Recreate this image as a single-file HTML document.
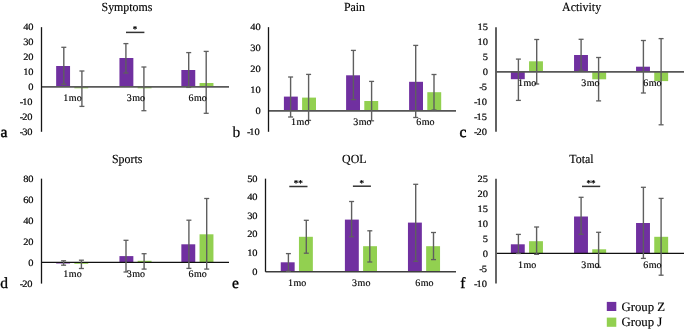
<!DOCTYPE html>
<html><head><meta charset="utf-8"><title>Chart</title>
<style>
html,body{margin:0;padding:0;background:#fff;width:685px;height:330px;overflow:hidden}
svg{display:block;will-change:transform}
text{font-family:"Liberation Serif",serif;fill:#000;text-rendering:geometricPrecision}
</style></head>
<body>
<svg width="685" height="330" viewBox="0 0 685 330">

<text transform="translate(33.60,30.05) scale(1.08,1)" font-size="9.7" text-anchor="end" stroke="#000" stroke-width="0.2">40</text>
<text transform="translate(33.60,45.00) scale(1.08,1)" font-size="9.7" text-anchor="end" stroke="#000" stroke-width="0.2">30</text>
<text transform="translate(33.60,59.95) scale(1.08,1)" font-size="9.7" text-anchor="end" stroke="#000" stroke-width="0.2">20</text>
<text transform="translate(33.60,74.90) scale(1.08,1)" font-size="9.7" text-anchor="end" stroke="#000" stroke-width="0.2">10</text>
<text transform="translate(33.60,89.85) scale(1.08,1)" font-size="9.7" text-anchor="end" stroke="#000" stroke-width="0.2">0</text>
<text transform="translate(32.60,104.80) scale(1.08,1)" font-size="9.7" text-anchor="end" stroke="#000" stroke-width="0.2">-<tspan dx="-1.0">10</tspan></text>
<text transform="translate(32.60,119.75) scale(1.08,1)" font-size="9.7" text-anchor="end" stroke="#000" stroke-width="0.2">-<tspan dx="-1.0">20</tspan></text>
<text transform="translate(32.60,134.70) scale(1.08,1)" font-size="9.7" text-anchor="end" stroke="#000" stroke-width="0.2">-<tspan dx="-1.0">30</tspan></text>
<rect x="56.15" y="66.00" width="13.90" height="20.90" fill="#7030A0"/>
<rect x="74.35" y="86.90" width="13.90" height="1.40" fill="#92D050"/>
<rect x="119.45" y="58.00" width="13.90" height="28.90" fill="#7030A0"/>
<rect x="137.65" y="86.90" width="13.90" height="1.40" fill="#92D050"/>
<rect x="181.35" y="70.00" width="13.90" height="16.90" fill="#7030A0"/>
<rect x="199.55" y="83.00" width="13.90" height="3.90" fill="#92D050"/>
<line x1="41.50" y1="86.90" x2="229.00" y2="86.90" stroke="#5a5a5a" stroke-width="1.6"/>
<line x1="41.50" y1="27.15" x2="41.50" y2="131.80" stroke="#151515" stroke-width="1.3"/>
<line x1="63.80" y1="47.30" x2="63.80" y2="84.20" stroke="#5f5f5f" stroke-width="1.4"/>
<line x1="61.30" y1="47.30" x2="66.30" y2="47.30" stroke="#5f5f5f" stroke-width="1.3"/>
<line x1="61.30" y1="84.20" x2="66.30" y2="84.20" stroke="#5f5f5f" stroke-width="1.3"/>
<line x1="81.90" y1="71.00" x2="81.90" y2="106.40" stroke="#5f5f5f" stroke-width="1.4"/>
<line x1="79.40" y1="71.00" x2="84.40" y2="71.00" stroke="#5f5f5f" stroke-width="1.3"/>
<line x1="79.40" y1="106.40" x2="84.40" y2="106.40" stroke="#5f5f5f" stroke-width="1.3"/>
<text x="72.50" y="100.90" font-size="10" text-anchor="middle" stroke="#000" stroke-width="0.15">1<tspan dx="0.5">mo</tspan></text>
<line x1="125.90" y1="43.60" x2="125.90" y2="73.00" stroke="#5f5f5f" stroke-width="1.4"/>
<line x1="123.40" y1="43.60" x2="128.40" y2="43.60" stroke="#5f5f5f" stroke-width="1.3"/>
<line x1="123.40" y1="73.00" x2="128.40" y2="73.00" stroke="#5f5f5f" stroke-width="1.3"/>
<line x1="143.90" y1="67.00" x2="143.90" y2="110.70" stroke="#5f5f5f" stroke-width="1.4"/>
<line x1="141.40" y1="67.00" x2="146.40" y2="67.00" stroke="#5f5f5f" stroke-width="1.3"/>
<line x1="141.40" y1="110.70" x2="146.40" y2="110.70" stroke="#5f5f5f" stroke-width="1.3"/>
<text x="135.80" y="100.90" font-size="10" text-anchor="middle" stroke="#000" stroke-width="0.15">3<tspan dx="0.5">mo</tspan></text>
<line x1="188.70" y1="52.60" x2="188.70" y2="87.40" stroke="#5f5f5f" stroke-width="1.4"/>
<line x1="186.20" y1="52.60" x2="191.20" y2="52.60" stroke="#5f5f5f" stroke-width="1.3"/>
<line x1="186.20" y1="87.40" x2="191.20" y2="87.40" stroke="#5f5f5f" stroke-width="1.3"/>
<line x1="206.20" y1="51.40" x2="206.20" y2="113.30" stroke="#5f5f5f" stroke-width="1.4"/>
<line x1="203.70" y1="51.40" x2="208.70" y2="51.40" stroke="#5f5f5f" stroke-width="1.3"/>
<line x1="203.70" y1="113.30" x2="208.70" y2="113.30" stroke="#5f5f5f" stroke-width="1.3"/>
<text x="197.70" y="100.90" font-size="10" text-anchor="middle" stroke="#000" stroke-width="0.15">6<tspan dx="0.5">mo</tspan></text>
<text transform="translate(127.00,10.90) scale(0.96,1)" font-size="12.4" text-anchor="middle" stroke="#000" stroke-width="0.15">Symptoms</text>
<text x="0.50" y="136.80" font-size="15.5" text-anchor="start" stroke="#000" stroke-width="0.45">a</text>
<line x1="126.00" y1="32.40" x2="144.40" y2="32.40" stroke="#333" stroke-width="1.5"/>
<text x="135.00" y="31.80" font-size="9" text-anchor="middle" stroke="#000" stroke-width="0.3">*</text>
<text transform="translate(260.80,30.05) scale(1.08,1)" font-size="9.7" text-anchor="end" stroke="#000" stroke-width="0.2">40</text>
<text transform="translate(260.80,50.98) scale(1.08,1)" font-size="9.7" text-anchor="end" stroke="#000" stroke-width="0.2">30</text>
<text transform="translate(260.80,71.91) scale(1.08,1)" font-size="9.7" text-anchor="end" stroke="#000" stroke-width="0.2">20</text>
<text transform="translate(260.80,92.84) scale(1.08,1)" font-size="9.7" text-anchor="end" stroke="#000" stroke-width="0.2">10</text>
<text transform="translate(260.80,113.77) scale(1.08,1)" font-size="9.7" text-anchor="end" stroke="#000" stroke-width="0.2">0</text>
<text transform="translate(259.80,134.70) scale(1.08,1)" font-size="9.7" text-anchor="end" stroke="#000" stroke-width="0.2">-<tspan dx="-1.0">10</tspan></text>
<rect x="283.90" y="96.60" width="13.90" height="14.20" fill="#7030A0"/>
<rect x="302.10" y="97.60" width="13.90" height="13.20" fill="#92D050"/>
<rect x="346.10" y="75.30" width="13.90" height="35.50" fill="#7030A0"/>
<rect x="364.30" y="101.00" width="13.90" height="9.80" fill="#92D050"/>
<rect x="409.10" y="81.80" width="13.90" height="29.00" fill="#7030A0"/>
<rect x="427.30" y="92.20" width="13.90" height="18.60" fill="#92D050"/>
<line x1="268.50" y1="110.80" x2="456.00" y2="110.80" stroke="#555" stroke-width="1.7"/>
<line x1="268.50" y1="27.15" x2="268.50" y2="131.80" stroke="#151515" stroke-width="1.3"/>
<line x1="290.60" y1="77.00" x2="290.60" y2="117.00" stroke="#5f5f5f" stroke-width="1.4"/>
<line x1="288.10" y1="77.00" x2="293.10" y2="77.00" stroke="#5f5f5f" stroke-width="1.3"/>
<line x1="288.10" y1="117.00" x2="293.10" y2="117.00" stroke="#5f5f5f" stroke-width="1.3"/>
<line x1="308.60" y1="74.40" x2="308.60" y2="120.40" stroke="#5f5f5f" stroke-width="1.4"/>
<line x1="306.10" y1="74.40" x2="311.10" y2="74.40" stroke="#5f5f5f" stroke-width="1.3"/>
<line x1="306.10" y1="120.40" x2="311.10" y2="120.40" stroke="#5f5f5f" stroke-width="1.3"/>
<text x="300.25" y="125.10" font-size="10" text-anchor="middle" stroke="#000" stroke-width="0.15">1<tspan dx="0.5">mo</tspan></text>
<line x1="353.40" y1="50.40" x2="353.40" y2="99.60" stroke="#5f5f5f" stroke-width="1.4"/>
<line x1="350.90" y1="50.40" x2="355.90" y2="50.40" stroke="#5f5f5f" stroke-width="1.3"/>
<line x1="350.90" y1="99.60" x2="355.90" y2="99.60" stroke="#5f5f5f" stroke-width="1.3"/>
<line x1="371.60" y1="81.40" x2="371.60" y2="120.80" stroke="#5f5f5f" stroke-width="1.4"/>
<line x1="369.10" y1="81.40" x2="374.10" y2="81.40" stroke="#5f5f5f" stroke-width="1.3"/>
<line x1="369.10" y1="120.80" x2="374.10" y2="120.80" stroke="#5f5f5f" stroke-width="1.3"/>
<text x="362.45" y="125.10" font-size="10" text-anchor="middle" stroke="#000" stroke-width="0.15">3<tspan dx="0.5">mo</tspan></text>
<line x1="415.70" y1="45.40" x2="415.70" y2="117.50" stroke="#5f5f5f" stroke-width="1.4"/>
<line x1="413.20" y1="45.40" x2="418.20" y2="45.40" stroke="#5f5f5f" stroke-width="1.3"/>
<line x1="413.20" y1="117.50" x2="418.20" y2="117.50" stroke="#5f5f5f" stroke-width="1.3"/>
<line x1="434.00" y1="74.50" x2="434.00" y2="110.00" stroke="#5f5f5f" stroke-width="1.4"/>
<line x1="431.50" y1="74.50" x2="436.50" y2="74.50" stroke="#5f5f5f" stroke-width="1.3"/>
<line x1="431.50" y1="110.00" x2="436.50" y2="110.00" stroke="#5f5f5f" stroke-width="1.3"/>
<text x="425.45" y="125.10" font-size="10" text-anchor="middle" stroke="#000" stroke-width="0.15">6<tspan dx="0.5">mo</tspan></text>
<text transform="translate(354.50,10.90) scale(0.96,1)" font-size="12.4" text-anchor="middle" stroke="#000" stroke-width="0.15">Pain</text>
<text x="232.50" y="136.80" font-size="15.5" text-anchor="start" stroke="#000" stroke-width="0.15">b</text>
<text transform="translate(488.00,30.05) scale(1.08,1)" font-size="9.7" text-anchor="end" stroke="#000" stroke-width="0.2">15</text>
<text transform="translate(488.00,45.00) scale(1.08,1)" font-size="9.7" text-anchor="end" stroke="#000" stroke-width="0.2">10</text>
<text transform="translate(488.00,59.95) scale(1.08,1)" font-size="9.7" text-anchor="end" stroke="#000" stroke-width="0.2">5</text>
<text transform="translate(488.00,74.90) scale(1.08,1)" font-size="9.7" text-anchor="end" stroke="#000" stroke-width="0.2">0</text>
<text transform="translate(487.00,89.85) scale(1.08,1)" font-size="9.7" text-anchor="end" stroke="#000" stroke-width="0.2">-<tspan dx="-1.0">5</tspan></text>
<text transform="translate(487.00,104.80) scale(1.08,1)" font-size="9.7" text-anchor="end" stroke="#000" stroke-width="0.2">-<tspan dx="-1.0">10</tspan></text>
<text transform="translate(487.00,119.75) scale(1.08,1)" font-size="9.7" text-anchor="end" stroke="#000" stroke-width="0.2">-<tspan dx="-1.0">15</tspan></text>
<text transform="translate(487.00,134.70) scale(1.08,1)" font-size="9.7" text-anchor="end" stroke="#000" stroke-width="0.2">-<tspan dx="-1.0">20</tspan></text>
<rect x="510.85" y="71.85" width="13.90" height="7.35" fill="#7030A0"/>
<rect x="529.05" y="61.30" width="13.90" height="10.55" fill="#92D050"/>
<rect x="574.05" y="55.00" width="13.90" height="16.85" fill="#7030A0"/>
<rect x="592.25" y="71.85" width="13.90" height="7.45" fill="#92D050"/>
<rect x="636.05" y="66.70" width="13.90" height="5.15" fill="#7030A0"/>
<rect x="654.25" y="71.85" width="13.90" height="9.25" fill="#92D050"/>
<line x1="496.00" y1="71.85" x2="684.00" y2="71.85" stroke="#575757" stroke-width="1.85"/>
<line x1="496.00" y1="27.15" x2="496.00" y2="131.80" stroke="#5a5a5a" stroke-width="1.9"/>
<line x1="518.40" y1="59.10" x2="518.40" y2="100.40" stroke="#5f5f5f" stroke-width="1.4"/>
<line x1="515.90" y1="59.10" x2="520.90" y2="59.10" stroke="#5f5f5f" stroke-width="1.3"/>
<line x1="515.90" y1="100.40" x2="520.90" y2="100.40" stroke="#5f5f5f" stroke-width="1.3"/>
<line x1="536.70" y1="39.50" x2="536.70" y2="84.00" stroke="#5f5f5f" stroke-width="1.4"/>
<line x1="534.20" y1="39.50" x2="539.20" y2="39.50" stroke="#5f5f5f" stroke-width="1.3"/>
<line x1="534.20" y1="84.00" x2="539.20" y2="84.00" stroke="#5f5f5f" stroke-width="1.3"/>
<text x="527.20" y="85.80" font-size="10" text-anchor="middle" stroke="#000" stroke-width="0.15">1<tspan dx="0.5">mo</tspan></text>
<line x1="581.10" y1="39.30" x2="581.10" y2="70.20" stroke="#5f5f5f" stroke-width="1.4"/>
<line x1="578.60" y1="39.30" x2="583.60" y2="39.30" stroke="#5f5f5f" stroke-width="1.3"/>
<line x1="578.60" y1="70.20" x2="583.60" y2="70.20" stroke="#5f5f5f" stroke-width="1.3"/>
<line x1="598.60" y1="57.50" x2="598.60" y2="100.90" stroke="#5f5f5f" stroke-width="1.4"/>
<line x1="596.10" y1="57.50" x2="601.10" y2="57.50" stroke="#5f5f5f" stroke-width="1.3"/>
<line x1="596.10" y1="100.90" x2="601.10" y2="100.90" stroke="#5f5f5f" stroke-width="1.3"/>
<text x="590.40" y="85.80" font-size="10" text-anchor="middle" stroke="#000" stroke-width="0.15">3<tspan dx="0.5">mo</tspan></text>
<line x1="643.40" y1="40.50" x2="643.40" y2="93.00" stroke="#5f5f5f" stroke-width="1.4"/>
<line x1="640.90" y1="40.50" x2="645.90" y2="40.50" stroke="#5f5f5f" stroke-width="1.3"/>
<line x1="640.90" y1="93.00" x2="645.90" y2="93.00" stroke="#5f5f5f" stroke-width="1.3"/>
<line x1="661.10" y1="38.60" x2="661.10" y2="124.80" stroke="#5f5f5f" stroke-width="1.4"/>
<line x1="658.60" y1="38.60" x2="663.60" y2="38.60" stroke="#5f5f5f" stroke-width="1.3"/>
<line x1="658.60" y1="124.80" x2="663.60" y2="124.80" stroke="#5f5f5f" stroke-width="1.3"/>
<text x="652.40" y="85.80" font-size="10" text-anchor="middle" stroke="#000" stroke-width="0.15">6<tspan dx="0.5">mo</tspan></text>
<text transform="translate(581.60,10.90) scale(0.96,1)" font-size="12.4" text-anchor="middle" stroke="#000" stroke-width="0.15">Activity</text>
<text x="459.50" y="136.80" font-size="15.5" text-anchor="start" stroke="#000" stroke-width="0.5">c</text>
<text transform="translate(33.60,181.55) scale(1.08,1)" font-size="9.7" text-anchor="end" stroke="#000" stroke-width="0.2">80</text>
<text transform="translate(33.60,202.54) scale(1.08,1)" font-size="9.7" text-anchor="end" stroke="#000" stroke-width="0.2">60</text>
<text transform="translate(33.60,223.53) scale(1.08,1)" font-size="9.7" text-anchor="end" stroke="#000" stroke-width="0.2">40</text>
<text transform="translate(33.60,244.52) scale(1.08,1)" font-size="9.7" text-anchor="end" stroke="#000" stroke-width="0.2">20</text>
<text transform="translate(33.60,265.51) scale(1.08,1)" font-size="9.7" text-anchor="end" stroke="#000" stroke-width="0.2">0</text>
<text transform="translate(32.60,286.50) scale(1.08,1)" font-size="9.7" text-anchor="end" stroke="#000" stroke-width="0.2">-<tspan dx="-1.0">20</tspan></text>
<rect x="56.15" y="262.40" width="13.90" height="1.10" fill="#7030A0"/>
<rect x="74.35" y="262.40" width="13.90" height="1.40" fill="#92D050"/>
<rect x="119.45" y="256.10" width="13.90" height="6.30" fill="#7030A0"/>
<rect x="137.65" y="260.80" width="13.90" height="1.60" fill="#92D050"/>
<rect x="181.35" y="244.30" width="13.90" height="18.10" fill="#7030A0"/>
<rect x="199.55" y="234.30" width="13.90" height="28.10" fill="#92D050"/>
<line x1="41.50" y1="262.40" x2="229.00" y2="262.40" stroke="#111" stroke-width="1.25"/>
<line x1="41.50" y1="178.65" x2="41.50" y2="283.60" stroke="#151515" stroke-width="1.3"/>
<line x1="63.60" y1="260.80" x2="63.60" y2="265.20" stroke="#5f5f5f" stroke-width="1.4"/>
<line x1="61.10" y1="260.80" x2="66.10" y2="260.80" stroke="#5f5f5f" stroke-width="1.3"/>
<line x1="61.10" y1="265.20" x2="66.10" y2="265.20" stroke="#5f5f5f" stroke-width="1.3"/>
<line x1="81.40" y1="260.20" x2="81.40" y2="268.50" stroke="#5f5f5f" stroke-width="1.4"/>
<line x1="78.90" y1="260.20" x2="83.90" y2="260.20" stroke="#5f5f5f" stroke-width="1.3"/>
<line x1="78.90" y1="268.50" x2="83.90" y2="268.50" stroke="#5f5f5f" stroke-width="1.3"/>
<text x="72.50" y="276.80" font-size="10" text-anchor="middle" stroke="#000" stroke-width="0.15">1<tspan dx="0.5">mo</tspan></text>
<line x1="126.00" y1="240.30" x2="126.00" y2="272.00" stroke="#5f5f5f" stroke-width="1.4"/>
<line x1="123.50" y1="240.30" x2="128.50" y2="240.30" stroke="#5f5f5f" stroke-width="1.3"/>
<line x1="123.50" y1="272.00" x2="128.50" y2="272.00" stroke="#5f5f5f" stroke-width="1.3"/>
<line x1="144.10" y1="253.70" x2="144.10" y2="269.10" stroke="#5f5f5f" stroke-width="1.4"/>
<line x1="141.60" y1="253.70" x2="146.60" y2="253.70" stroke="#5f5f5f" stroke-width="1.3"/>
<line x1="141.60" y1="269.10" x2="146.60" y2="269.10" stroke="#5f5f5f" stroke-width="1.3"/>
<text x="135.80" y="276.80" font-size="10" text-anchor="middle" stroke="#000" stroke-width="0.15">3<tspan dx="0.5">mo</tspan></text>
<line x1="188.90" y1="220.20" x2="188.90" y2="268.40" stroke="#5f5f5f" stroke-width="1.4"/>
<line x1="186.40" y1="220.20" x2="191.40" y2="220.20" stroke="#5f5f5f" stroke-width="1.3"/>
<line x1="186.40" y1="268.40" x2="191.40" y2="268.40" stroke="#5f5f5f" stroke-width="1.3"/>
<line x1="206.70" y1="198.50" x2="206.70" y2="269.10" stroke="#5f5f5f" stroke-width="1.4"/>
<line x1="204.20" y1="198.50" x2="209.20" y2="198.50" stroke="#5f5f5f" stroke-width="1.3"/>
<line x1="204.20" y1="269.10" x2="209.20" y2="269.10" stroke="#5f5f5f" stroke-width="1.3"/>
<text x="197.70" y="276.80" font-size="10" text-anchor="middle" stroke="#000" stroke-width="0.15">6<tspan dx="0.5">mo</tspan></text>
<text transform="translate(127.20,163.00) scale(0.96,1)" font-size="12.4" text-anchor="middle" stroke="#000" stroke-width="0.15">Sports</text>
<text x="0.20" y="288.10" font-size="15.5" text-anchor="start" stroke="#000" stroke-width="0.3">d</text>
<text transform="translate(257.60,181.55) scale(1.08,1)" font-size="9.7" text-anchor="end" stroke="#000" stroke-width="0.2">50</text>
<text transform="translate(257.60,200.18) scale(1.08,1)" font-size="9.7" text-anchor="end" stroke="#000" stroke-width="0.2">40</text>
<text transform="translate(257.60,218.81) scale(1.08,1)" font-size="9.7" text-anchor="end" stroke="#000" stroke-width="0.2">30</text>
<text transform="translate(257.60,237.44) scale(1.08,1)" font-size="9.7" text-anchor="end" stroke="#000" stroke-width="0.2">20</text>
<text transform="translate(257.60,256.07) scale(1.08,1)" font-size="9.7" text-anchor="end" stroke="#000" stroke-width="0.2">10</text>
<text transform="translate(257.60,274.70) scale(1.08,1)" font-size="9.7" text-anchor="end" stroke="#000" stroke-width="0.2">0</text>
<rect x="280.75" y="262.30" width="13.90" height="9.50" fill="#7030A0"/>
<rect x="298.95" y="236.80" width="13.90" height="35.00" fill="#92D050"/>
<rect x="344.90" y="219.60" width="13.90" height="52.20" fill="#7030A0"/>
<rect x="363.10" y="246.20" width="13.90" height="25.60" fill="#92D050"/>
<rect x="407.95" y="222.60" width="13.90" height="49.20" fill="#7030A0"/>
<rect x="426.15" y="246.20" width="13.90" height="25.60" fill="#92D050"/>
<line x1="265.50" y1="271.80" x2="456.00" y2="271.80" stroke="#3e3e3e" stroke-width="1.6"/>
<line x1="265.50" y1="178.65" x2="265.50" y2="271.80" stroke="#151515" stroke-width="1.3"/>
<line x1="288.40" y1="253.60" x2="288.40" y2="271.20" stroke="#5f5f5f" stroke-width="1.4"/>
<line x1="285.90" y1="253.60" x2="290.90" y2="253.60" stroke="#5f5f5f" stroke-width="1.3"/>
<line x1="285.90" y1="271.20" x2="290.90" y2="271.20" stroke="#5f5f5f" stroke-width="1.3"/>
<line x1="306.30" y1="220.30" x2="306.30" y2="253.20" stroke="#5f5f5f" stroke-width="1.4"/>
<line x1="303.80" y1="220.30" x2="308.80" y2="220.30" stroke="#5f5f5f" stroke-width="1.3"/>
<line x1="303.80" y1="253.20" x2="308.80" y2="253.20" stroke="#5f5f5f" stroke-width="1.3"/>
<text x="297.10" y="286.40" font-size="10" text-anchor="middle" stroke="#000" stroke-width="0.15">1<tspan dx="0.5">mo</tspan></text>
<line x1="351.60" y1="201.50" x2="351.60" y2="236.70" stroke="#5f5f5f" stroke-width="1.4"/>
<line x1="349.10" y1="201.50" x2="354.10" y2="201.50" stroke="#5f5f5f" stroke-width="1.3"/>
<line x1="349.10" y1="236.70" x2="354.10" y2="236.70" stroke="#5f5f5f" stroke-width="1.3"/>
<line x1="369.80" y1="230.80" x2="369.80" y2="262.00" stroke="#5f5f5f" stroke-width="1.4"/>
<line x1="367.30" y1="230.80" x2="372.30" y2="230.80" stroke="#5f5f5f" stroke-width="1.3"/>
<line x1="367.30" y1="262.00" x2="372.30" y2="262.00" stroke="#5f5f5f" stroke-width="1.3"/>
<text x="361.25" y="286.40" font-size="10" text-anchor="middle" stroke="#000" stroke-width="0.15">3<tspan dx="0.5">mo</tspan></text>
<line x1="415.70" y1="184.30" x2="415.70" y2="261.30" stroke="#5f5f5f" stroke-width="1.4"/>
<line x1="413.20" y1="184.30" x2="418.20" y2="184.30" stroke="#5f5f5f" stroke-width="1.3"/>
<line x1="413.20" y1="261.30" x2="418.20" y2="261.30" stroke="#5f5f5f" stroke-width="1.3"/>
<line x1="433.50" y1="232.50" x2="433.50" y2="259.60" stroke="#5f5f5f" stroke-width="1.4"/>
<line x1="431.00" y1="232.50" x2="436.00" y2="232.50" stroke="#5f5f5f" stroke-width="1.3"/>
<line x1="431.00" y1="259.60" x2="436.00" y2="259.60" stroke="#5f5f5f" stroke-width="1.3"/>
<text x="424.30" y="286.40" font-size="10" text-anchor="middle" stroke="#000" stroke-width="0.15">6<tspan dx="0.5">mo</tspan></text>
<text transform="translate(354.30,163.00) scale(0.96,1)" font-size="12.4" text-anchor="middle" stroke="#000" stroke-width="0.15">QOL</text>
<text x="232.00" y="287.80" font-size="15.5" text-anchor="start" stroke="#000" stroke-width="0.35">e</text>
<line x1="289.30" y1="186.50" x2="307.50" y2="186.50" stroke="#333" stroke-width="1.5"/>
<text x="298.20" y="185.90" font-size="9" text-anchor="middle" stroke="#000" stroke-width="0.3">**</text>
<line x1="352.90" y1="186.20" x2="370.90" y2="186.20" stroke="#333" stroke-width="1.5"/>
<text x="361.70" y="185.60" font-size="9" text-anchor="middle" stroke="#000" stroke-width="0.3">*</text>
<text transform="translate(488.00,181.55) scale(1.08,1)" font-size="9.7" text-anchor="end" stroke="#000" stroke-width="0.2">25</text>
<text transform="translate(488.00,196.54) scale(1.08,1)" font-size="9.7" text-anchor="end" stroke="#000" stroke-width="0.2">20</text>
<text transform="translate(488.00,211.54) scale(1.08,1)" font-size="9.7" text-anchor="end" stroke="#000" stroke-width="0.2">15</text>
<text transform="translate(488.00,226.53) scale(1.08,1)" font-size="9.7" text-anchor="end" stroke="#000" stroke-width="0.2">10</text>
<text transform="translate(488.00,241.52) scale(1.08,1)" font-size="9.7" text-anchor="end" stroke="#000" stroke-width="0.2">5</text>
<text transform="translate(488.00,256.51) scale(1.08,1)" font-size="9.7" text-anchor="end" stroke="#000" stroke-width="0.2">0</text>
<text transform="translate(487.00,271.51) scale(1.08,1)" font-size="9.7" text-anchor="end" stroke="#000" stroke-width="0.2">-<tspan dx="-1.0">5</tspan></text>
<text transform="translate(487.00,286.50) scale(1.08,1)" font-size="9.7" text-anchor="end" stroke="#000" stroke-width="0.2">-<tspan dx="-1.0">10</tspan></text>
<rect x="510.85" y="244.30" width="13.90" height="9.00" fill="#7030A0"/>
<rect x="529.05" y="241.20" width="13.90" height="12.10" fill="#92D050"/>
<rect x="574.05" y="216.50" width="13.90" height="36.80" fill="#7030A0"/>
<rect x="592.25" y="249.30" width="13.90" height="4.00" fill="#92D050"/>
<rect x="636.05" y="223.00" width="13.90" height="30.30" fill="#7030A0"/>
<rect x="654.25" y="236.80" width="13.90" height="16.50" fill="#92D050"/>
<line x1="496.00" y1="253.30" x2="684.00" y2="253.30" stroke="#111" stroke-width="1.25"/>
<line x1="496.00" y1="178.65" x2="496.00" y2="283.60" stroke="#5f5f5f" stroke-width="1.9"/>
<line x1="518.40" y1="234.40" x2="518.40" y2="253.50" stroke="#5f5f5f" stroke-width="1.4"/>
<line x1="515.90" y1="234.40" x2="520.90" y2="234.40" stroke="#5f5f5f" stroke-width="1.3"/>
<line x1="515.90" y1="253.50" x2="520.90" y2="253.50" stroke="#5f5f5f" stroke-width="1.3"/>
<line x1="536.60" y1="227.00" x2="536.60" y2="254.30" stroke="#5f5f5f" stroke-width="1.4"/>
<line x1="534.10" y1="227.00" x2="539.10" y2="227.00" stroke="#5f5f5f" stroke-width="1.3"/>
<line x1="534.10" y1="254.30" x2="539.10" y2="254.30" stroke="#5f5f5f" stroke-width="1.3"/>
<text x="527.20" y="267.80" font-size="10" text-anchor="middle" stroke="#000" stroke-width="0.15">1<tspan dx="0.5">mo</tspan></text>
<line x1="581.10" y1="197.30" x2="581.10" y2="234.30" stroke="#5f5f5f" stroke-width="1.4"/>
<line x1="578.60" y1="197.30" x2="583.60" y2="197.30" stroke="#5f5f5f" stroke-width="1.3"/>
<line x1="578.60" y1="234.30" x2="583.60" y2="234.30" stroke="#5f5f5f" stroke-width="1.3"/>
<line x1="598.60" y1="232.30" x2="598.60" y2="267.30" stroke="#5f5f5f" stroke-width="1.4"/>
<line x1="596.10" y1="232.30" x2="601.10" y2="232.30" stroke="#5f5f5f" stroke-width="1.3"/>
<line x1="596.10" y1="267.30" x2="601.10" y2="267.30" stroke="#5f5f5f" stroke-width="1.3"/>
<text x="590.40" y="267.80" font-size="10" text-anchor="middle" stroke="#000" stroke-width="0.15">3<tspan dx="0.5">mo</tspan></text>
<line x1="643.40" y1="187.30" x2="643.40" y2="258.40" stroke="#5f5f5f" stroke-width="1.4"/>
<line x1="640.90" y1="187.30" x2="645.90" y2="187.30" stroke="#5f5f5f" stroke-width="1.3"/>
<line x1="640.90" y1="258.40" x2="645.90" y2="258.40" stroke="#5f5f5f" stroke-width="1.3"/>
<line x1="661.10" y1="198.40" x2="661.10" y2="275.20" stroke="#5f5f5f" stroke-width="1.4"/>
<line x1="658.60" y1="198.40" x2="663.60" y2="198.40" stroke="#5f5f5f" stroke-width="1.3"/>
<line x1="658.60" y1="275.20" x2="663.60" y2="275.20" stroke="#5f5f5f" stroke-width="1.3"/>
<text x="652.40" y="267.80" font-size="10" text-anchor="middle" stroke="#000" stroke-width="0.15">6<tspan dx="0.5">mo</tspan></text>
<text transform="translate(581.50,162.80) scale(0.96,1)" font-size="12.4" text-anchor="middle" stroke="#000" stroke-width="0.15">Total</text>
<text x="460.20" y="288.40" font-size="15.5" text-anchor="start" stroke="#000" stroke-width="0.3">f</text>
<line x1="582.00" y1="186.40" x2="600.20" y2="186.40" stroke="#333" stroke-width="1.5"/>
<text x="590.90" y="185.80" font-size="9" text-anchor="middle" stroke="#000" stroke-width="0.3">**</text>
<rect x="606.80" y="301.90" width="9.50" height="9.10" fill="#7030A0"/>
<rect x="606.80" y="317.60" width="9.50" height="9.20" fill="#92D050"/>
<text x="621.40" y="310.70" font-size="12.8" text-anchor="start" stroke="#000" stroke-width="0.15">Group Z</text>
<text x="621.40" y="326.10" font-size="12.8" text-anchor="start" stroke="#000" stroke-width="0.15">Group J</text>
</svg>
</body></html>
